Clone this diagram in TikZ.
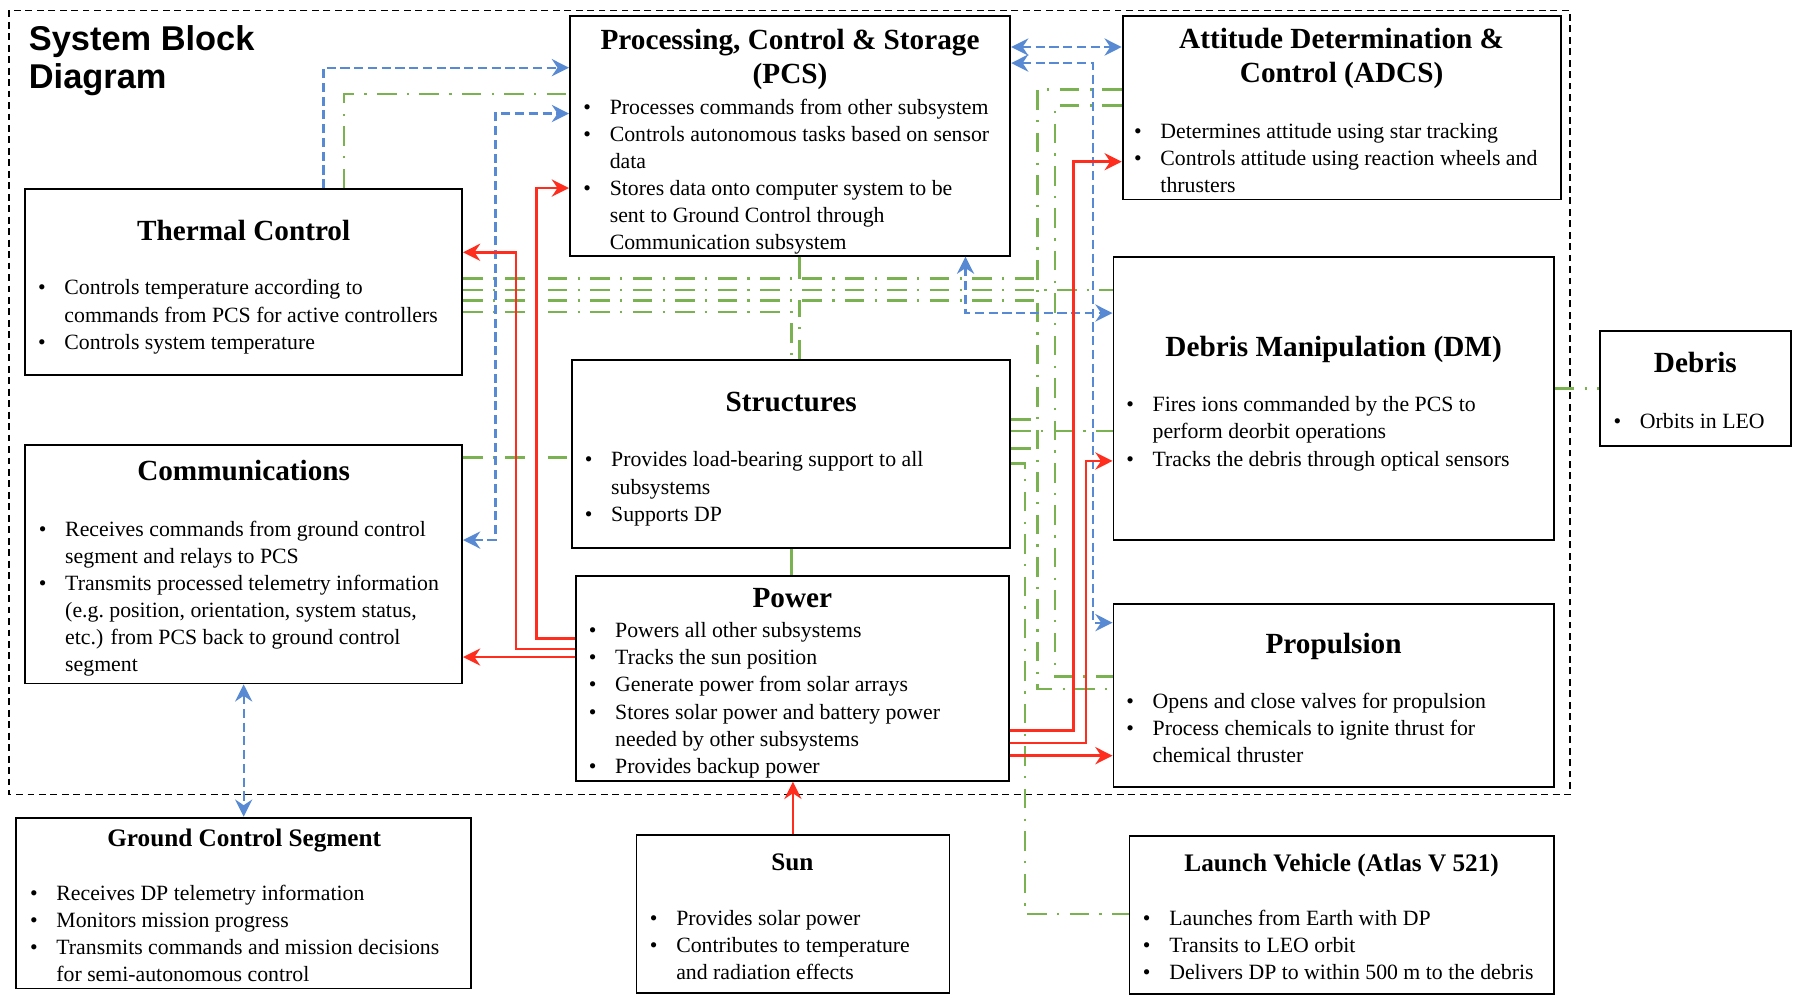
\documentclass[tikz,border=0pt]{standalone}
\usepackage{fontspec}
\setmainfont{Liberation Serif}
\newfontfamily\headfont{Liberation Sans}
\usetikzlibrary{arrows.meta}

\definecolor{sigblue}{RGB}{88,138,212}
\definecolor{busgreen}{RGB}{122,178,82}
\definecolor{pwrred}{RGB}{255,45,30}

% bullet and hanging indent for the box texts
\newcommand{\bu}{\strut\makebox[23pt][l]{\textbullet}}
\newcommand{\ind}{\strut\hspace*{23pt}}

\tikzset{
  blk/.style={draw, line width=1.6pt, inner sep=0pt},
  ttl/.style={anchor=base, inner sep=0pt, align=center, font=\fontsize{25.5}{30}\selectfont\bfseries},
  ttlsm/.style={anchor=base, inner sep=0pt, font=\fontsize{22}{26}\selectfont\bfseries},
  body/.style={anchor=north west, inner sep=0pt, align=left, font=\fontsize{19}{23.6}\selectfont},
  bus/.style={draw=busgreen, line width=2.3pt, dash pattern=on 17pt off 9pt on 2pt off 9pt},
  sig/.style={draw=sigblue, line width=2pt, dash pattern=on 8pt off 4pt},
  pwr/.style={draw=pwrred, line width=2.3pt}
}

\begin{document}
\begin{tikzpicture}[x=1pt, y=-1pt, >={Stealth[length=15pt, width=15pt, inset=5pt]}]
\useasboundingbox (0,0) rectangle (1568,876);

% spacecraft boundary
\draw[line width=1.3pt, dash pattern=on 6pt off 4pt] (8,9) rectangle (1369,693);
\node[anchor=north west, inner sep=0pt, align=left, font=\headfont\bfseries\fontsize{30}{33}\selectfont] (head) at (25,22) {System Block\\Diagram};

% blocks
\node[blk, minimum width=384pt, minimum height=209pt] (pcs) at (689,118.5) {};
\node[blk, minimum width=382pt, minimum height=160pt] (adcs) at (1170,94) {};
\node[blk, minimum width=381pt, minimum height=162pt] (thermal) at (212.5,246) {};
\node[blk, minimum width=384pt, minimum height=247pt] (dm) at (1163,347.5) {};
\node[blk, minimum width=167pt, minimum height=100pt] (debris) at (1478.5,339) {};
\node[blk, minimum width=382pt, minimum height=164pt] (struct) at (690,396) {};
\node[blk, minimum width=381pt, minimum height=208pt] (comm) at (212.5,492) {};
\node[blk, minimum width=378pt, minimum height=179pt] (power) at (691,591.5) {};
\node[blk, minimum width=384pt, minimum height=159pt] (prop) at (1163,606.5) {};
\node[blk, minimum width=397pt, minimum height=149pt] (gcs) at (212.5,787.5) {};
\node[blk, minimum width=273pt, minimum height=138pt] (sun) at (691.5,797) {};
\node[blk, minimum width=370pt, minimum height=138pt] (lv) at (1170,798) {};

% titles
\node[ttl, anchor=north] (pcs-t) at (689,22) {\strut Processing, Control \& Storage\\(PCS)};
\node[ttl, anchor=north] (adcs-t) at (1170,21) {\strut Attitude Determination \&\\Control (ADCS)};
\node[ttl] (thermal-t) at (212.5,210) {Thermal Control};
\node[ttl] (dm-t) at (1163,310.5) {Debris Manipulation (DM)};
\node[ttl] (debris-t) at (1478.5,325) {Debris};
\node[ttl] (struct-t) at (690,359) {Structures};
\node[ttl] (power-t) at (691,530) {Power};
\node[ttl] (comm-t) at (212.5,418.6) {Communications};
\node[ttl] (prop-t) at (1163,569.6) {Propulsion};
\node[ttlsm] (gcs-t) at (213,737.8) {Ground Control Segment};
\node[ttlsm] (sun-t) at (691,758.7) {Sun};
\node[ttlsm] (lv-t) at (1170,760) {Launch Vehicle (Atlas V 521)};

% texts
\node[body] (pcs-b) at (508.6,82.9) {\bu Processes commands from other subsystem\\
  \bu Controls autonomous tasks based on sensor\\ \ind data\\
  \bu Stores data onto computer system to be\\ \ind sent to Ground Control through\\ \ind Communication subsystem};
\node[body] (adcs-b) at (988.8,104.2) {\bu Determines attitude using star tracking\\
  \bu Controls attitude using reaction wheels and\\ \ind thrusters};
\node[body] (thermal-b) at (33,240.5) {\bu Controls temperature according to\\
  \ind commands from PCS for active controllers\\ \bu Controls system temperature};
\node[body] (dm-b) at (982,342.5) {\bu Fires ions commanded by the PCS to\\
  \ind perform deorbit operations\\ \bu Tracks the debris through optical sensors};
\node[body] (debris-b) at (1407,357) {\bu Orbits in LEO};
\node[body] (struct-b) at (509.8,390.5) {\bu Provides load-bearing support to all\\
  \ind subsystems\\ \bu Supports DP};
\node[body] (power-b) at (513.3,539.5) {\bu Powers all other subsystems\\
  \bu Tracks the sun position\\ \bu Generate power from solar arrays\\
  \bu Stores solar power and battery power\\ \ind needed by other subsystems\\
  \bu Provides backup power};
\node[body] (comm-b) at (33.7,451) {\bu Receives commands from ground control\\
  \ind segment and relays to PCS\\ \bu Transmits processed telemetry information\\
  \ind (e.g.\ position, orientation, system status,\\ \ind etc.) from PCS back to ground control\\
  \ind segment};
\node[body] (prop-b) at (982,601.1) {\bu Opens and close valves for propulsion\\
  \bu Process chemicals to ignite thrust for\\ \ind chemical thruster};
\node[body] (gcs-b) at (26,768.4) {\bu Receives DP telemetry information\\
  \bu Monitors mission progress\\ \bu Transmits commands and mission decisions\\
  \ind for semi-autonomous control};
\node[body] (sun-b) at (566.6,790.2) {\bu Provides solar power\\
  \bu Contributes to temperature\\ \ind and radiation effects};
\node[body] (lv-b) at (996.5,790.5) {\bu Launches from Earth with DP\\
  \bu Transits to LEO orbit\\ \bu Delivers DP to within 500 m to the debris};

% structural links (green)
\draw[bus] (thermal.north -| 300,0) -- (300,82) -- (pcs.west |- 0,82);
\draw[bus] (thermal.east |- 0,243) -- (905,243);
\draw[bus] (thermal.east |- 0,253) -- (dm.west |- 0,253);
\draw[bus] (thermal.east |- 0,262) -- (905,262);
\draw[bus] (thermal.east |- 0,272) -- (690,272) -- (struct.north -| 690,0);
\draw[bus, solid] (pcs.south -| 697,0) -- (697,243);
\draw[bus] (struct.north -| 697,0) -- (697,262);
\draw[bus] (adcs.west |- 0,78) -- (905,78) -- (905,601) -- (prop.west |- 0,601);
\draw[bus] (adcs.west |- 0,92) -- (920,92) -- (920,590) -- (prop.west |- 0,590);
\draw[bus] (struct.east |- 0,366) -- (905,366);
\draw[bus] (struct.east |- 0,376) -- (dm.west |- 0,376);
\draw[bus] (struct.east |- 0,391) -- (905,391);
\draw[bus] (struct.east |- 0,404) -- (894,404) -- (894,797) -- (lv.west |- 0,797);
\draw[bus] (comm.east |- 0,399) -- (struct.west |- 0,399);
\draw[bus, solid] (struct.south -| 690,0) -- (power.north -| 690,0);
\draw[bus] (dm.east |- 0,339) -- (debris.west |- 0,339);

% data links (blue)
\draw[sig, ->] (thermal.north -| 282,0) -- (282,59) -- (pcs.west |- 0,59);
\draw[sig, <->] (comm.east |- 0,471) -- (432,471) -- (432,99) -- (pcs.west |- 0,99);
\draw[sig, <->] (pcs.east |- 0,41) -- (adcs.west |- 0,41);
\draw[sig, <->] (pcs.east |- 0,55) -- (953,55) -- (953,543) -- (prop.west |- 0,543);
\draw[sig, <->] (pcs.south -| 842,0) -- (842,273) -- (dm.west |- 0,273);
\draw[sig, <->] (comm.south) -- (gcs.north);

% power links (red)
\draw[pwr, ->] (power.west |- 0,557) -- (468,557) -- (468,164) -- (pcs.west |- 0,164);
\draw[pwr, ->] (power.west |- 0,566) -- (450,566) -- (450,220) -- (thermal.east |- 0,220);
\draw[pwr, ->] (power.west |- 0,573) -- (comm.east |- 0,573);
\draw[pwr, ->] (power.east |- 0,637) -- (936,637) -- (936,141) -- (adcs.west |- 0,141);
\draw[pwr, ->] (power.east |- 0,648) -- (947,648) -- (947,402) -- (dm.west |- 0,402);
\draw[pwr, ->] (power.east |- 0,659) -- (prop.west |- 0,659);
\draw[pwr, ->] (sun.north) -- (sun.north |- power.south);
\end{tikzpicture}
\end{document}
